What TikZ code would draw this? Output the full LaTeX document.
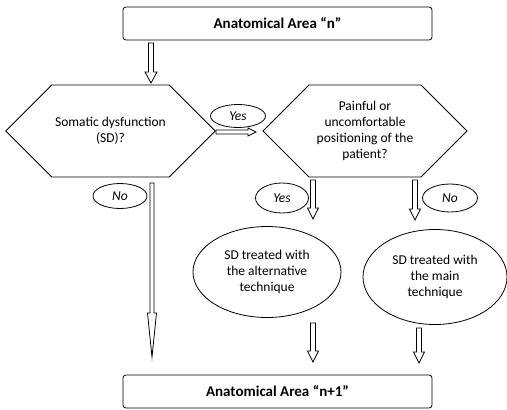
\documentclass[tikz,border=0pt]{standalone}
\usepackage{fontspec}
\setmainfont{Carlito}
\usetikzlibrary{shapes.geometric,shapes.symbols,calc}

\tikzset{
  area/.style={draw, rounded corners=3pt, minimum width=309pt, minimum height=33pt,
    font=\fontsize{15}{18}\selectfont\bfseries},
  hexa/.style={draw, signal, signal to=west and east, signal pointer angle=90,
    minimum height=92pt, align=center, font=\fontsize{13.5}{16}\selectfont},
  answer/.style={draw, ellipse, inner sep=0pt, font=\fontsize{13.5}{16}\selectfont\itshape},
  treated/.style={draw, ellipse, inner sep=0pt, align=center, font=\fontsize{13.5}{16}\selectfont},
  % hollow block arrow: shaft half width, head half width, head length
  hollow/.style n args={3}{to path={
    let \p1=($(\tikztotarget)!#3!(\tikztostart)$) in
    ($(\tikztostart)!#1!90:(\tikztotarget)$) -- ($(\p1)!#1!90:(\tikztotarget)$)
    -- ($(\p1)!#2!90:(\tikztotarget)$) -- (\tikztotarget)
    -- ($(\p1)!#2!-90:(\tikztotarget)$) -- ($(\p1)!#1!-90:(\tikztotarget)$)
    -- ($(\tikztostart)!#1!-90:(\tikztotarget)$) -- cycle}},
}

\begin{document}
\begin{tikzpicture}[x=1pt, y=-1pt, line width=0.8pt]
\useasboundingbox (0,0) rectangle (507,410);

% areas
\node[area] (top) at (277.5,23.5) {Anatomical Area “n”};
\node[area] (next) at (277.5,391.5) {Anatomical Area “n+1”};

% questions
\node[hexa, minimum width=205pt] (sd) at (110.5,131) {Somatic dysfunction\\(SD)?};
\node[hexa, minimum width=204pt] (pain) at (365,131) {Painful or\\uncomfortable\\positioning of the\\patient?};

% answers
\node[answer, minimum width=55pt, minimum height=23pt] (yes1) at (238,116) {Yes};
\node[answer, minimum width=54pt, minimum height=25pt] (no1) at (120,196) {No};
\node[answer, minimum width=53pt, minimum height=30pt] (yes2) at (282,198) {Yes};
\node[answer, minimum width=55pt, minimum height=28pt] (no2) at (450,198) {No};

% treatments
\node[treated, minimum width=148pt, minimum height=91pt] (alt) at (267,272) {SD treated with\\the alternative\\technique};
\node[treated, minimum width=144pt, minimum height=95pt] (main) at (435,277) {SD treated with\\the main\\technique};

% arrow ends
\coordinate (topout) at (151,43);
\coordinate (sdin) at (151,83);
\coordinate (sdyes) at (216,132);
\coordinate (painin) at (256,132);
\coordinate (sdno) at (152,183);
\coordinate (nextleft) at (152,357);
\coordinate (painyes) at (313,180);
\coordinate (altin) at (313,219);
\coordinate (painno) at (415,180);
\coordinate (mainin) at (415,220);
\coordinate (altout) at (313,323);
\coordinate (nextmid) at (313,362);
\coordinate (mainout) at (419,328);
\coordinate (nextright) at (419,363);

\draw[hollow={2.5pt}{6pt}{11pt}] (topout) to (sdin);
\draw[hollow={2pt}{4pt}{8pt}] (sdyes) to (painin);
\draw[hollow={2pt}{4.5pt}{44pt}] (sdno) to (nextleft);
\draw[hollow={2.5pt}{5.5pt}{11pt}] (painyes) to (altin);
\draw[hollow={2.5pt}{5.5pt}{11pt}] (painno) to (mainin);
\draw[hollow={2.5pt}{5.5pt}{11pt}] (altout) to (nextmid);
\draw[hollow={2.5pt}{5.5pt}{11pt}] (mainout) to (nextright);
\end{tikzpicture}
\end{document}
